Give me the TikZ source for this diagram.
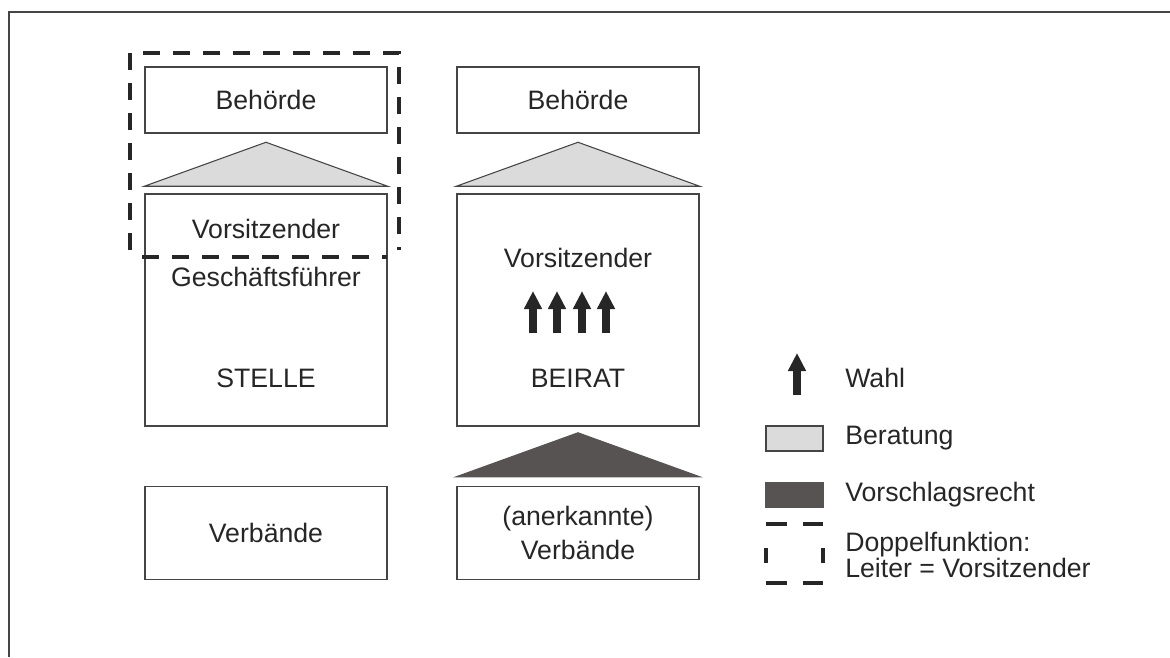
\documentclass[tikz,border=0pt]{standalone}
\usepackage{fontspec}
\setmainfont{Liberation Sans}
\usetikzlibrary{positioning,arrows.meta}
\definecolor{boxgray}{HTML}{454545}
\definecolor{textgray}{HTML}{262626}
\definecolor{lightfill}{HTML}{DBDBDB}
\definecolor{darkfill}{HTML}{575353}
\begin{document}
\begin{tikzpicture}[x=0.75pt, y=-0.75pt, inner sep=0pt, >=latex,
   font=\fontsize{20}{25.5}\selectfont,
   box/.style={draw=boxgray, line width=1.1pt, minimum width=181.5pt, align=center, text=textgray},
   txt/.style={text=textgray, align=center},
   key/.style={text=textgray, anchor=west, align=left},
   rat/.style={fill=lightfill, draw=boxgray, line width=0.8pt},
   vor/.style={fill=darkfill, draw=darkfill, line width=0.8pt},
   wahl/.style={draw=textgray, line width=6pt, -{Triangle[length=13.5pt, width=12.75pt]}},
   doppel/.style={draw=black!85, line width=2.6pt, dash pattern=on 12.75pt off 9.75pt}
   ]
  \useasboundingbox (0,0) rectangle (1170,657);
  \draw[line width=1.5pt, boxgray] (9,657) -- (9,12) -- (1170,12);

  % Stelle
  \path (266,100) node[box, minimum height=49.5pt] (behA) {Behörde}
   (266,310) node[box, minimum height=174pt] (stelle) {}
   (266,533) node[box, minimum height=69.75pt] (verbA) {Verbände};
  \path (266,229) node[txt] (vorsA) {Vorsitzender}
   (266,277) node[txt] (gf) {Geschäftsführer}
   (266,378) node[txt] (stelleT) {STELLE};
  \filldraw[rat] ([yshift=5.25pt]stelle.north west) -- ([yshift=5.25pt]stelle.north east)
   -- ([yshift=38.25pt]stelle.north) -- cycle;

  % Beirat
  \path (578,100) node[box, minimum height=49.5pt] (behB) {Behörde}
   (578,310) node[box, minimum height=174pt] (beirat) {}
   (578,533) node[box, minimum height=69.75pt] (verbB) {(anerkannte)\\Verbände};
  \path (578,258) node[txt] (vorsB) {Vorsitzender}
   (578,378) node[txt] (beiratT) {BEIRAT};
  \filldraw[rat] ([yshift=5.25pt]beirat.north west) -- ([yshift=5.25pt]beirat.north east)
   -- ([yshift=38.25pt]beirat.north) -- cycle;
  \filldraw[vor] ([yshift=6.75pt]verbB.north west) -- ([yshift=6.75pt]verbB.north east)
   -- ([yshift=39.75pt]verbB.north) -- cycle;
  \foreach \x in {533,557,582,606}
    \draw[wahl] (\x,333) -- (\x,291);

  % Doppelfunktion
  \draw[doppel] (130,250) -- (130,53) -- (399,53) -- (399,250);
  \draw[doppel] (142,257) -- (387,257);

  % Legende
  \draw[wahl] (797,395) -- (797,353);
  \path (845,378) node[key] (wahlT) {Wahl};
  \filldraw[rat] (766,426) rectangle (823,451);
  \path (845,438) node[key] (ratT) {Beratung};
  \filldraw[vor] (766,483) rectangle (823,507);
  \path (845,495) node[key] (vorT) {Vorschlagsrecht};
  \draw[doppel, dash pattern=on 15.75pt off 12pt] (766,524) -- (823,524)
   (766,583) -- (823,583);
  \draw[doppel] (766,548) -- (766,563) (823,548) -- (823,563);
  \path (845,555) node[key, font=\fontsize{20}{19}\selectfont] (doppelT) {Doppelfunktion:\\Leiter = Vorsitzender};
\end{tikzpicture}
\end{document}
